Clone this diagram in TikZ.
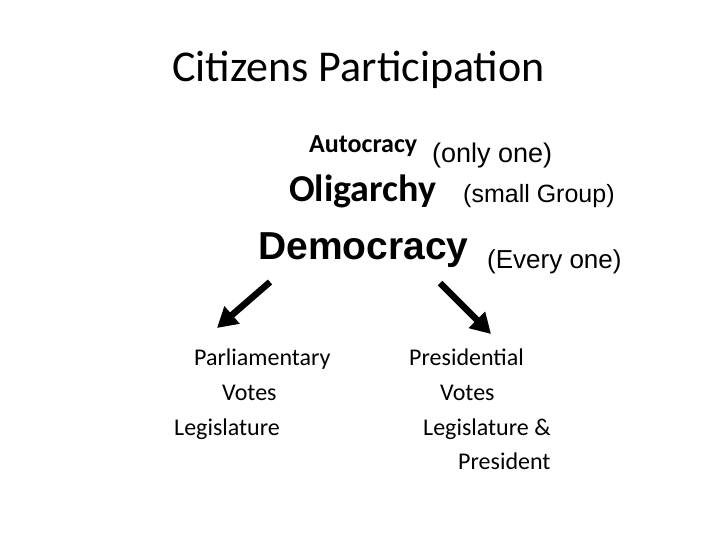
\documentclass[tikz,border=0pt]{standalone}
\usepackage{fontspec}
\setmainfont{Carlito}
\newfontfamily\arialf{Liberation Sans}
\usetikzlibrary{arrows.meta}
\begin{document}
\begin{tikzpicture}[x=1pt,y=-1pt,
  txt/.style={inner sep=0pt,anchor=base west},
  big/.style={line width=6.5pt,-{Triangle[length=20pt,width=22pt]}}]
\useasboundingbox (0,0) rectangle (720,540);
\node[txt,font=\fontsize{44}{48}\selectfont] (title) at (172,82) {Citizens Participation};
\node[txt,font=\fontsize{26}{28}\selectfont\bfseries] (auto) at (309,153) {Autocracy};
\node[txt,font=\arialf\fontsize{27}{30}\selectfont] (only) at (432,163) {(only one)};
\node[txt,font=\fontsize{38}{42}\selectfont\bfseries] (olig) at (289,202) {Oligarchy};
\node[txt,font=\arialf\fontsize{25}{28}\selectfont] (small) at (463,203) {(small Group)};
\node[txt,font=\arialf\bfseries\fontsize{39}{42}\selectfont] (demo) at (258,259) {Democracy};
\node[txt,font=\arialf\fontsize{26}{28}\selectfont] (every) at (487,268) {(Every one)};
\coordinate (l1) at (270,282);
\coordinate (l2) at (217,328);
\coordinate (r1) at (440,283);
\coordinate (r2) at (491,334);
\draw[big] (l1) -- (l2);
\draw[big] (r1) -- (r2);
\begin{scope}[every node/.style={txt,font=\fontsize{24}{28}\selectfont}]
\node (parl) at (194,365) {Parliamentary};
\node (v1) at (222,400) {Votes};
\node (leg1) at (174,435) {Legislature};
\node (pres) at (409,365) {Presidential};
\node (v2) at (440,400) {Votes};
\node (leg2) at (423,435) {Legislature \&};
\node (pr) at (458,469) {President};
\end{scope}
\end{tikzpicture}
\end{document}
